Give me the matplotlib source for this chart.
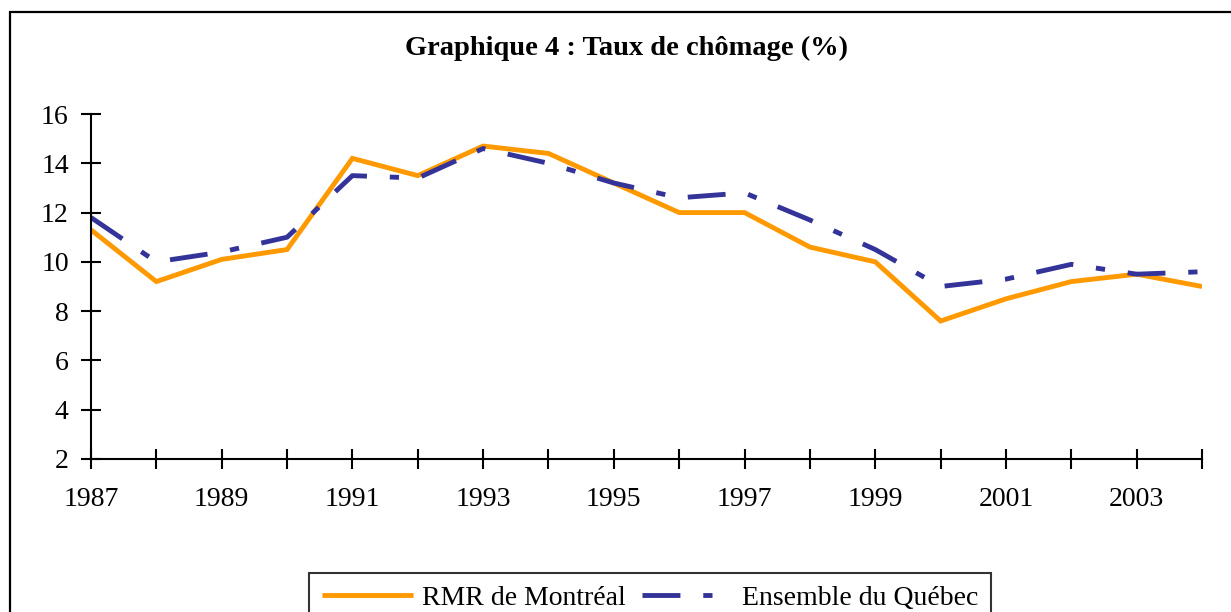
import matplotlib.pyplot as plt
from matplotlib.patches import Rectangle

years = list(range(1987, 2005))
montreal = [11.3, 9.2, 10.1, 10.5, 14.2, 13.5, 14.7, 14.4, 13.2, 12.0,
            12.0, 10.6, 10.0, 7.6, 8.5, 9.2, 9.5, 9.0]
quebec = [11.8, 10.0, 10.4, 11.0, 13.5, 13.4, 14.6, 14.0, 13.2, 12.6,
          12.8, 11.7, 10.5, 9.0, 9.3, 9.9, 9.5, 9.6]
xticklabels = [str(y) if (y - 1987) % 2 == 0 else "" for y in years]

plt.rcParams["font.family"] = ["Liberation Serif", "DejaVu Serif"]

fig = plt.figure(figsize=(12.31, 6.12), dpi=100)
ax = fig.add_axes([0.0739, 0.25, 0.9026, 0.5637])

ax.plot(years, montreal, color="#FF9900", lw=3.5, solid_capstyle="butt",
        solid_joinstyle="miter", label="RMR de Montréal")
ax.plot(years, quebec, color="#333399", lw=3.5, linestyle=(0, (7.8, 4.7, 1.9, 4.7)),
        dash_capstyle="butt", label="Ensemble du Québec")

ax.set_xlim(1987, 2004)
ax.set_ylim(2, 16)
ax.set_yticks(range(2, 17, 2))
ax.set_xticks(years)
ax.set_xticklabels(xticklabels)

for s in ["top", "right"]:
    ax.spines[s].set_visible(False)
for s in ["left", "bottom"]:
    ax.spines[s].set_linewidth(1.5)
ax.tick_params(direction="inout", length=14, width=1.5, labelsize=20)
ax.tick_params(axis="x", pad=13)
ax.tick_params(axis="y", pad=9)

fig.text(0.509, 0.921, "Graphique 4 : Taux de chômage (%)", ha="center",
         va="center", fontsize=20.5, fontweight="bold")

# outer chart border
fig.patches.append(Rectangle((0.0085, -0.05), 1.1, 1.03, transform=fig.transFigure,
                             fill=False, edgecolor="black", lw=1.6))

leg = fig.legend(loc="upper center", bbox_to_anchor=(0.528, 0.064), ncol=2,
                 fontsize=20, frameon=True, fancybox=False, edgecolor="black",
                 handlelength=3.3, handletextpad=0.3, columnspacing=0.6,
                 borderpad=0.45, borderaxespad=0)
leg.get_frame().set_linewidth(1.5)

fig.savefig("out.png", dpi=100)
